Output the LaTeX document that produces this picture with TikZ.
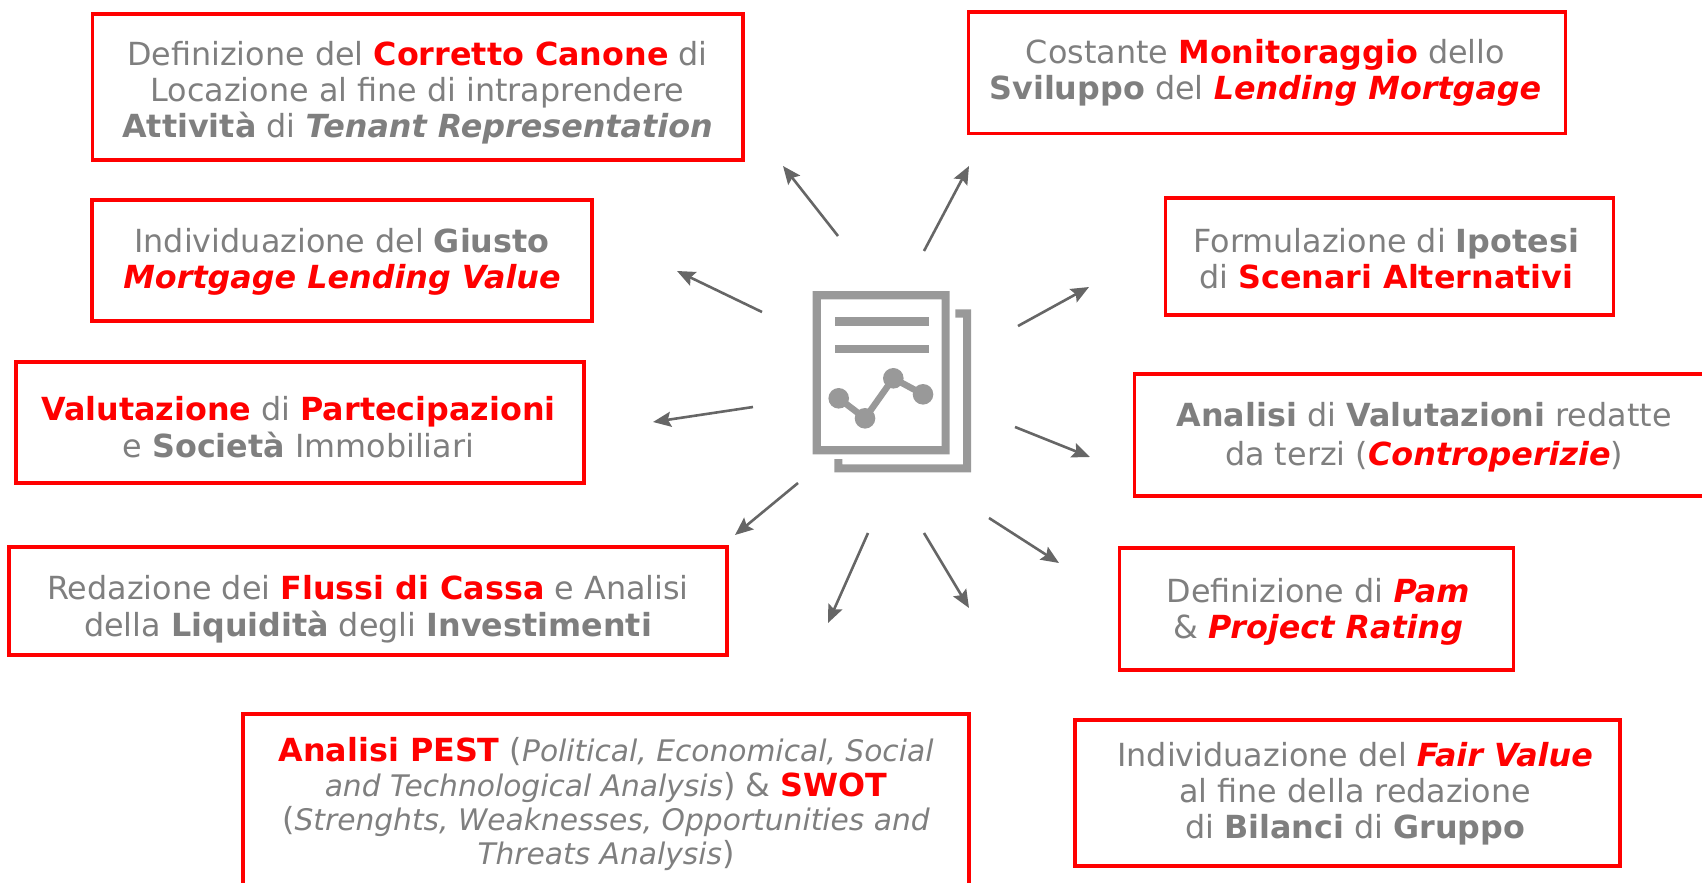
\documentclass[tikz,border=0pt]{standalone}
\usepackage{fontspec}
\setmainfont{DejaVu Sans}
\usetikzlibrary{arrows.meta}
\definecolor{txtgray}{HTML}{7F7F7F}
\definecolor{iconsgray}{HTML}{999999}
\definecolor{arrgray}{HTML}{666666}
\newcommand{\rb}[1]{\textcolor{red}{\textbf{#1}}}
\newcommand{\ri}[1]{\textcolor{red}{\textbf{\textit{#1}}}}
\newcommand{\gb}[1]{\textbf{#1}}
\newcommand{\gi}[1]{\textbf{\textit{#1}}}
\newcommand{\smi}[1]{{\fontsize{29.7}{33}\selectfont\textit{#1}}}
% text block moved by dx (right), dy (down) inside its box
\newcommand{\tl}[3]{\hspace*{\dimexpr 2\dimexpr #1pt\relax\relax}\raisebox{\dimexpr -#2pt\relax}[\height][\depth]{\begin{tabular}{@{}c@{}}#3\end{tabular}}}
\tikzset{
  x=1pt,y=-1pt,
  infobox/.style={draw=red,line width=3.5pt,inner sep=0pt,align=center,text=txtgray,fill=white,
    font=\fontsize{31.8}{36}\selectfont},
  spoke/.style={draw=arrgray,line width=2.6pt,-{Stealth[length=18pt,width=15pt,inset=3pt]}},
  iconfill/.style={fill=iconsgray,draw=none},
}
\begin{document}
\begin{tikzpicture}
\clip (0,0) rectangle (1702,883);
\node[infobox,minimum width=650.5pt,minimum height=146pt] (n1) at (417.5,87) {\tl{0}{7}{Definizione del \rb{Corretto Canone} di\\Locazione al fine di intraprendere\\\gb{Attività} di \gi{Tenant Representation}}};
\node[infobox,minimum width=597pt,minimum height=121.5pt] (n2) at (1267,72.75) {\tl{-1.6}{1.7}{Costante \rb{Monitoraggio} dello\\\gb{Sviluppo} del \ri{Lending Mortgage}}};
\node[infobox,minimum width=500pt,minimum height=121pt] (n3) at (342,260.5) {\tl{0}{2.7}{Individuazione del \gb{Giusto}\\\ri{Mortgage Lending Value}}};
\node[infobox,minimum width=448pt,minimum height=117pt] (n4) at (1389.5,256.5) {\tl{-3.3}{6.4}{Formulazione di \gb{Ipotesi}\\di \rb{Scenari Alternativi}}};
\node[infobox,minimum width=568pt,minimum height=121pt] (n5) at (300,422.5) {\tl{-1.6}{9.2}{\rb{Valutazione} di \rb{Partecipazioni}\\e \gb{Società} Immobiliari}};
\node[infobox,minimum width=576pt,minimum height=122pt,font=\fontsize{31.8}{39}\selectfont] (n6) at (1422.5,435) {\tl{1.6}{2.7}{\gb{Analisi} di \gb{Valutazioni} redatte\\da terzi (\ri{Controperizie})}};
\node[infobox,minimum width=718pt,minimum height=108pt] (n7) at (368,601) {\tl{0}{9.8}{Redazione dei \rb{Flussi di Cassa} e Analisi\\della \gb{Liquidità} degli \gb{Investimenti}}};
\node[infobox,minimum width=394pt,minimum height=122pt] (n8) at (1316.5,609) {\tl{1.6}{4.3}{Definizione di \ri{Pam}\\\& \ri{Project Rating}}};
\node[infobox,minimum width=726pt,minimum height=174pt,font=\fontsize{31.8}{34}\selectfont] (n9) at (606,801) {\tl{0}{5.4}{\rb{Analisi PEST} (\smi{Political, Economical, Social}\\\smi{and Technological Analysis}) \& \rb{SWOT}\\(\smi{Strenghts, Weaknesses, Opportunities and}\\\smi{Threats Analysis})}};
\node[infobox,minimum width=545pt,minimum height=146pt] (n10) at (1347.5,793) {\tl{7.6}{2.2}{Individuazione del \ri{Fair Value}\\al fine della redazione\\di \gb{Bilanci} di \gb{Gruppo}}};

% icon
\fill[iconsgray,even odd rule] (812.7,291) rectangle (949.7,454.3) (820.8,299.3) rectangle (941.6,446.2);
\fill[iconfill] (835,317.3) rectangle (929,326);
\fill[iconfill] (835,344.7) rectangle (929,353.3);
\fill[iconfill] (955.3,309.3) -- (971,309.3) -- (971,472.3) -- (834.3,472.3) -- (834.3,459) -- (842.3,459) -- (842.3,464.3) -- (963,464.3) -- (963,317.7) -- (955.3,317.7) -- cycle;
\coordinate (c1) at (838.7,398.3);
\coordinate (c2) at (865,418.3);
\coordinate (c3) at (893.3,378.3);
\coordinate (c4) at (923,394.3);
\draw[draw=iconsgray,line width=6.5pt] (c1) -- (c2) -- (c3) -- (c4);
\foreach \c in {c1,c2,c3,c4} \fill[iconsgray] (\c) circle (10.3pt);

% arrows
\coordinate (a1s) at (838,236);  \coordinate (a1e) at (783,166);
\coordinate (a2s) at (924,251);  \coordinate (a2e) at (969,166);
\coordinate (a3s) at (762,312);  \coordinate (a3e) at (677,271);
\coordinate (a4s) at (1018,326); \coordinate (a4e) at (1089,287);
\coordinate (a5s) at (753,407);  \coordinate (a5e) at (653,422);
\coordinate (a6s) at (1015,427); \coordinate (a6e) at (1090,457);
\coordinate (a7s) at (798,483);  \coordinate (a7e) at (735,535);
\coordinate (a8s) at (989,518);  \coordinate (a8e) at (1059,563);
\coordinate (a9s) at (868,533);  \coordinate (a9e) at (828,623);
\coordinate (a10s) at (924,533); \coordinate (a10e) at (969,608);
\foreach \i in {1,...,10} \draw[spoke] (a\i s) -- (a\i e);
\end{tikzpicture}
\end{document}
